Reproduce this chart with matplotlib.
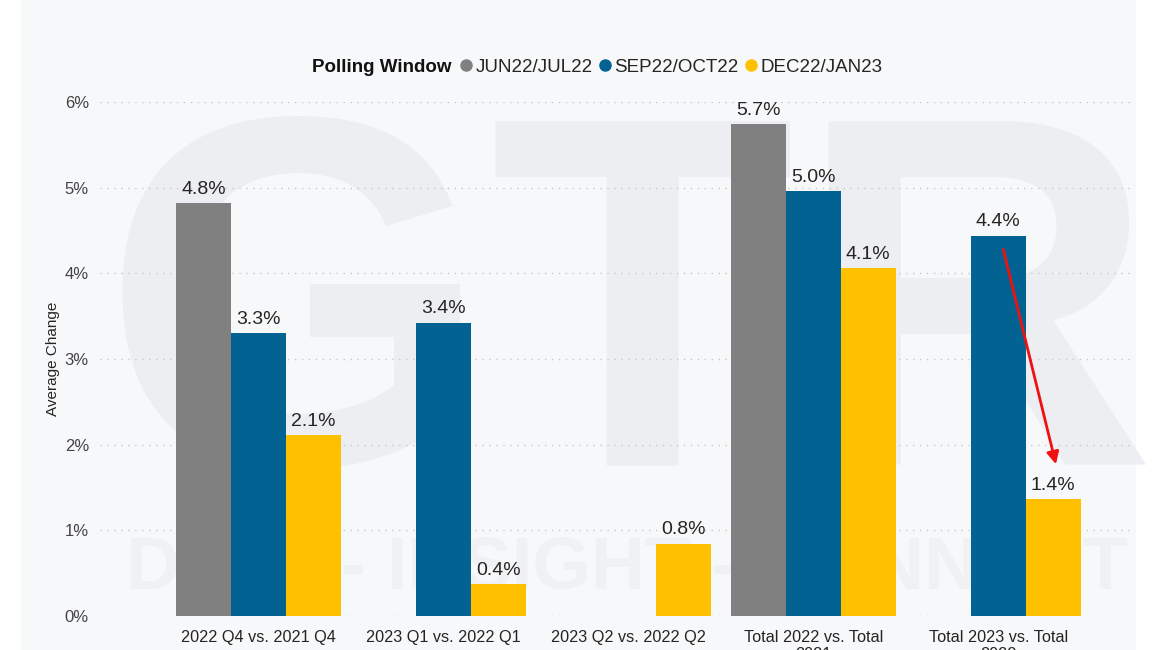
import numpy as np
import matplotlib.pyplot as plt
from matplotlib.lines import Line2D
from matplotlib.patches import Rectangle

plt.rcParams['font.family'] = ['Liberation Sans', 'DejaVu Sans']

categories = ["2022 Q4 vs. 2021 Q4", "2023 Q1 vs. 2022 Q1", "2023 Q2 vs. 2022 Q2",
              "Total 2022 vs. Total\n2021", "Total 2023 vs. Total\n2022"]
series_names = ["JUN22/JUL22", "SEP22/OCT22", "DEC22/JAN23"]
jun_jul = [4.82, np.nan, np.nan, 5.74, np.nan]
sep_oct = [3.30, 3.42, np.nan, 4.96, 4.44]
dec_jan = [2.11, 0.37, 0.84, 4.06, 1.36]
colors = ["#808080", "#026392", "#FFC000"]

fig = plt.figure(figsize=(11.72, 6.5), dpi=100, facecolor="white")
# light panel behind the chart
fig.patches.append(Rectangle((21 / 1172, 0), (1136 - 21) / 1172, 1, transform=fig.transFigure,
                             facecolor="#F7F8FA", edgecolor="none", zorder=-2))

# faint watermark
fig.text(0.537, 0.285, "GTR", fontsize=360, fontweight="bold", color="#ECEEF2",
         ha="center", va="baseline", zorder=-1)
fig.text(0.535, 0.095, "DATA - INSIGHT - CONNECT", fontsize=54, fontweight="bold",
         color="#F0F1F3", ha="center", va="baseline", zorder=-1)

ax = fig.add_axes([100 / 1172, 34 / 650, (1135 - 100) / 1172, (616 - 102) / 650])
ax.set_facecolor("none")
ax.set_zorder(1)

x = np.arange(len(categories))
w = 0.297
for i, (vals, c) in enumerate(zip([jun_jul, sep_oct, dec_jan], colors)):
    pos = x + (i - 1) * w
    ax.bar(pos, vals, width=w, color=c, zorder=3)
    for p, v in zip(pos, vals):
        if not np.isnan(v):
            ax.annotate(f"{v:.1f}%", (p, v), xytext=(0, 4), textcoords="offset points",
                        ha="center", va="bottom", fontsize=14, color="#252423")

ax.set_xlim(-0.857, 4.74)
ax.set_ylim(0, 6)
ax.set_yticks(range(0, 7))
ax.set_yticklabels([f"{t}%" for t in range(0, 7)])
ax.set_xticks(x)
ax.set_xticklabels(categories)
ax.tick_params(axis="x", length=0, labelsize=11.7, colors="#252423", pad=10)
ax.tick_params(axis="y", length=0, labelsize=12, colors="#444444", pad=8)
for s in ax.spines.values():
    s.set_visible(False)
ax.grid(axis="y", linestyle=(0, (1, 4)), color="#C8C8C8", linewidth=1, zorder=1)
ax.set_ylabel("Average Change", fontsize=11, color="#252423", labelpad=3)

# red arrow on last group
ax.annotate("", xy=(4.316, 1.74), xytext=(4.024, 4.31),
            arrowprops=dict(arrowstyle="-|>", color="#F01010", lw=2, mutation_scale=18),
            zorder=5)

# legend with title on the left
fig.text(312 / 1172, 1 - 67 / 650, "Polling Window", fontsize=13.5, fontweight="bold",
         color="#111111", va="center", ha="left")
handles = [Line2D([], [], marker="o", linestyle="none", markersize=8, color=c) for c in colors]
leg = fig.legend(handles, series_names, loc="center left",
                 bbox_to_anchor=(457 / 1172, 1 - 67 / 650), ncol=3, frameon=False,
                 fontsize=13.5, handletextpad=0.0, columnspacing=0.15, handlelength=1.0,
                 borderpad=0, borderaxespad=0)
for t in leg.get_texts():
    t.set_color("#252423")

fig.savefig("out.png", dpi=100, facecolor=fig.get_facecolor())
